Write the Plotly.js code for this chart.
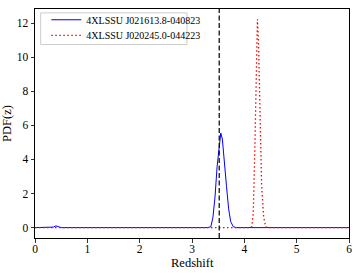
<!DOCTYPE html>
<html>
<head>
<meta charset="utf-8">
<script src="https://cdn.plot.ly/plotly-3.0.1.min.js"></script>
<style>
  html, body { margin: 0; padding: 0; background: #fff; }
  #graficaPdf { width: 357px; height: 273px; }
</style>
</head>
<body>
<div id="graficaPdf"></div>
<script>
// photometric redshift PDFs
var zBlue = [0, 0.30, 0.35, 0.40, 0.45, 0.50, 3.30, 3.36, 3.40, 3.44, 3.48, 3.52, 3.55, 3.58, 3.62, 3.66, 3.70, 3.74, 3.79, 3.85, 6.0];
var pdfBlue = [0, 0, 0.03, 0.1, 0.03, 0, 0, 0.05, 0.6, 1.8, 3.6, 5.0, 5.55, 5.2, 4.0, 2.4, 1.1, 0.35, 0.05, 0, 0];

var zRed = [0, 4.10, 4.14, 4.17, 4.20, 4.23, 4.25, 4.27, 4.30, 4.33, 4.37, 4.41, 4.45, 6.0];
var pdfRed = [0, 0, 0.05, 0.8, 4.5, 10.5, 12.22, 11.0, 6.5, 2.5, 0.6, 0.05, 0, 0];

var nombres = ['4XLSSU J021613.8-040823', '4XLSSU J020245.0-044223'];
var zSpec = 3.52;

var fuente = 'Liberation Serif, Times New Roman, serif';

var trace1 = {
  x: zBlue,
  y: pdfBlue,
  mode: 'lines',
  name: nombres[0],
  legend: 'legend',
  line: { color: '#0000ff', width: 1 },
  type: 'scatter'
};

var trace2 = {
  x: zRed,
  y: pdfRed,
  mode: 'lines',
  name: nombres[1],
  legend: 'legend2',
  line: { color: '#ff0000', width: 1.3, dash: '1.5px,2.5px' },
  type: 'scatter'
};

var data = [trace1, trace2];

// two borderless legends so the rows sit close together, one box behind them
var leyenda = {
  x: 0.036,
  xanchor: 'left', yanchor: 'middle',
  bgcolor: 'rgba(0,0,0,0)',
  borderwidth: 0,
  itemwidth: 30,
  font: { family: fuente, size: 10 }
};

var layout = {
  width: 357,
  height: 273,
  margin: { l: 35, r: 8, t: 5, b: 35 },
  paper_bgcolor: '#fff',
  plot_bgcolor: '#fff',
  font: { family: fuente, size: 11.5, color: '#000' },
  showlegend: true,
  legend: Object.assign({}, leyenda, { y: 0.953 }),
  legend2: Object.assign({}, leyenda, { y: 0.885 }),
  xaxis: {
    range: [0, 6],
    tickvals: [0, 1, 2, 3, 4, 5, 6],
    ticks: 'outside', ticklen: 3.5, tickwidth: 0.8, tickcolor: '#000',
    ticklabelstandoff: -3,
    showgrid: false,
    zeroline: false,
    showline: true, linecolor: '#000', linewidth: 1, mirror: true
  },
  yaxis: {
    title: { text: 'PDF(z)', font: { size: 12.5 }, standoff: 3 },
    range: [-0.61, 12.83],
    tickvals: [0, 2, 4, 6, 8, 10, 12],
    ticks: 'outside', ticklen: 3.5, tickwidth: 0.8, tickcolor: '#000',
    showgrid: false,
    zeroline: false,
    showline: true, linecolor: '#000', linewidth: 1, mirror: true
  },
  annotations: [{
    text: 'Redshift',
    xref: 'paper', yref: 'paper',
    x: 0.5, y: -0.073,
    xanchor: 'center', yanchor: 'top',
    showarrow: false,
    borderpad: 0,
    font: { size: 12.5 }
  }],
  shapes: [{
    type: 'line',
    xref: 'x', yref: 'paper',
    x0: zSpec, x1: zSpec, y0: 0, y1: 1,
    line: { color: '#000', width: 1.2, dash: '5px,2.5px' }
  }, {
    type: 'rect',
    xref: 'paper', yref: 'paper',
    x0: 0.018, x1: 0.484, y0: 0.845, y1: 0.983,
    fillcolor: '#fff',
    line: { color: '#cccccc', width: 1 }
  }]
};

Plotly.newPlot('graficaPdf', data, layout, { displayModeBar: false, staticPlot: true });
</script>
</body>
</html>
